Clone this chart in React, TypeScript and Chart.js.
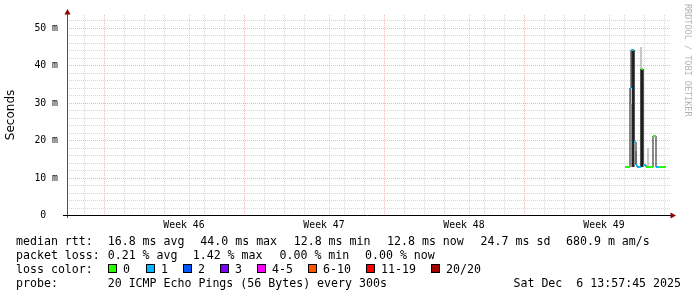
import React, { useEffect, useRef } from 'react';
import { Chart, registerables } from 'chart.js';

Chart.register(...registerables);

// ---- time axis (days from left edge of the graph) ----
const X_MAX_DAYS = 30.15;
const FIRST_DAY_LINE = 0.35;
const FIRST_WEEK_LINE = 2.35;
const WEEK_LABEL_POS = [5.85, 12.85, 19.85, 26.85];
const WEEK_LABELS = ['Week 46', 'Week 47', 'Week 48', 'Week 49'];

// ---- value axis (milliseconds) ----
const Y_MAX_MS = 53.5;
const Y_MINOR_STEP = 2;
const Y_MAJOR_STEP = 10;

// ---- median rtt, step-wise (start time in days, value in ms, loss level index) ----
const STEP_START = [27.9, 28.15, 28.2, 28.35, 28.45, 28.5, 28.68, 28.78, 28.95, 29.3, 29.45, 29.6];
const STEP_END = 29.95;
const MEDIAN_MS = [12.8, 34.0, 44.0, 19.5, 13.5, 12.8, 39.0, 13.5, 12.8, 21.0, 12.8, 12.8];
const LOSS_LEVEL = [0, 1, 1, 1, 1, 1, 0, 1, 0, 0, 1, 0];

// ---- smoke (ping spread) ----
const DARK_SMOKE_X = [28.275, 28.73];
const DARK_SMOKE_LO = [12.8, 12.8];
const DARK_SMOKE_HI = [44.0, 39.0];
const LIGHT_SMOKE_X = [28.2, 28.43, 28.7, 29.05];
const LIGHT_SMOKE_LO = [29.6, 13.3, 39.0, 12.8];
const LIGHT_SMOKE_HI = [34.0, 17.2, 45.0, 18.0];

// ---- legend ----
const LOSS_LABELS = ['0', '1', '2', '3', '4-5', '6-10', '11-19', '20/20'];
const LOSS_COLORS = ['#26ff00', '#00b8ff', '#0059ff', '#7e00ff', '#ff00ff', '#ff5500', '#ff0000', '#a10000'];
const RTT_STATS = ['16.8 ms avg', '44.0 ms max', '12.8 ms min', '12.8 ms now', '24.7 ms sd', '680.9 m am/s'];
const LOSS_STATS = ['0.21 % avg', '1.42 % max', '0.00 % min', '0.00 % now'];
const PROBE_TEXT = '20 ICMP Echo Pings (56 Bytes) every 300s';
const DATE_TEXT = 'Sat Dec  6 13:57:45 2025';

// layout of legend (pixels)
const RTT_X = [107.7, 200.3, 293.7, 387, 480.6, 566];
const LOSS_X = [107.7, 192.7, 279.5, 365];
const BOX_X = [108, 146, 183, 220, 257, 308, 366, 431];

const MONO = "'DejaVu Sans Mono', monospace";
const FS = 11.6;
const TICK_FS = 9.8;

const near = (a: number, b: number) => Math.abs(a - b) < 1e-6;
const isWeekLine = (v: number) => {
  const k = (v - FIRST_WEEK_LINE) / 7;
  return Math.abs(k - Math.round(k)) < 1e-6;
};

export default function App() {
  const ref = useRef<HTMLCanvasElement>(null);

  useEffect(() => {
    const canvas = ref.current!;
    document.body.style.margin = '0';

    const medianPts = STEP_START.map((x, i) => ({ x, y: MEDIAN_MS[i] }));
    medianPts.push({ x: STEP_END, y: MEDIAN_MS[MEDIAN_MS.length - 1] });

    const lossPts: { x: number; y: number }[] = [];
    STEP_START.forEach((x, i) => {
      const end = i + 1 < STEP_START.length ? STEP_START[i + 1] : STEP_END;
      lossPts.push({ x, y: MEDIAN_MS[i] });
      lossPts.push({ x: end, y: MEDIAN_MS[i] });
    });

    const darkSmoke = DARK_SMOKE_X.map((x, i) => ({ x, y: [DARK_SMOKE_LO[i], DARK_SMOKE_HI[i]] }));
    const lightSmoke = LIGHT_SMOKE_X.map((x, i) => ({ x, y: [LIGHT_SMOKE_LO[i], LIGHT_SMOKE_HI[i]] }));

    const xTicks: number[] = [];
    for (let v = FIRST_DAY_LINE; v < X_MAX_DAYS; v += 1) xTicks.push(Math.round(v * 100) / 100);
    WEEK_LABEL_POS.forEach((v) => xTicks.push(v));
    xTicks.sort((a, b) => a - b);

    const yTicks: number[] = [];
    for (let v = 0; v <= Y_MAX_MS; v += Y_MINOR_STEP) yTicks.push(v);

    const minorGrid = 'rgba(150,150,150,0.38)';
    const majorGrid = 'rgba(230,70,70,0.42)';

    const axesPlugin = {
      id: 'rrdAxes',
      afterDatasetsDraw(chart: any) {
        const { ctx, chartArea } = chart;
        const { left, right, top, bottom } = chartArea;
        ctx.save();
        ctx.lineWidth = 1;
        ctx.strokeStyle = '#505050';
        ctx.beginPath();
        ctx.moveTo(left + 0.5, bottom + 3);
        ctx.lineTo(left + 0.5, top - 2);
        ctx.stroke();
        ctx.strokeStyle = '#000';
        ctx.beginPath();
        ctx.moveTo(left - 4, bottom + 0.5);
        ctx.lineTo(right + 2, bottom + 0.5);
        ctx.stroke();
        ctx.fillStyle = '#8b0000';
        ctx.beginPath();
        ctx.moveTo(left + 0.5, top - 6);
        ctx.lineTo(left - 2.5, top - 0.5);
        ctx.lineTo(left + 3.5, top - 0.5);
        ctx.closePath();
        ctx.fill();
        ctx.beginPath();
        ctx.moveTo(right + 6, bottom + 0.5);
        ctx.lineTo(right + 0.5, bottom - 2.5);
        ctx.lineTo(right + 0.5, bottom + 3.5);
        ctx.closePath();
        ctx.fill();
        ctx.restore();
      },
    };

    const chart = new Chart(canvas, {
      type: 'line',
      data: {
        datasets: [
          {
            type: 'line',
            label: 'loss color',
            data: lossPts,
            borderColor: LOSS_COLORS[0],
            borderWidth: 2,
            borderCapStyle: 'butt',
            pointRadius: 0,
            order: 0,
            segment: {
              borderColor: (c: any) =>
                c.p0DataIndex % 2 === 0 ? LOSS_COLORS[LOSS_LEVEL[c.p0DataIndex / 2]] : 'rgba(0,0,0,0)',
            },
          },
          {
            type: 'line',
            label: 'median rtt',
            data: medianPts,
            stepped: 'before',
            borderColor: '#151515',
            borderWidth: 1,
            pointRadius: 0,
            order: 1,
          },
          {
            type: 'bar',
            label: 'smoke light',
            data: lightSmoke as any,
            backgroundColor: '#c6c6c6',
            barThickness: 2,
            grouped: false,
            inflateAmount: 0,
            order: 2,
          },
          {
            type: 'bar',
            label: 'smoke dark',
            data: darkSmoke as any,
            backgroundColor: '#262626',
            barThickness: 3,
            grouped: false,
            inflateAmount: 0,
            order: 3,
          },
        ] as any,
      },
      options: {
        responsive: false,
        animation: false,
        events: [],
        layout: { padding: { left: 0, top: 13, right: 27, bottom: 62 } },
        plugins: { legend: { display: false }, tooltip: { enabled: false }, title: { display: false } },
        scales: {
          x: {
            type: 'linear',
            min: 0,
            max: X_MAX_DAYS,
            offset: false,
            alignToPixels: true,
            afterBuildTicks: (s: any) => {
              s.ticks = xTicks.map((value) => ({ value }));
            },
            afterFit: (s: any) => {
              s.height = 20;
            },
            ticks: {
              autoSkip: false,
              maxRotation: 0,
              minRotation: 0,
              padding: 5,
              color: '#000',
              font: { family: MONO, size: TICK_FS },
              callback: (v: any) => {
                const i = WEEK_LABEL_POS.findIndex((p) => near(p, Number(v)));
                return i >= 0 ? WEEK_LABELS[i] : '';
              },
            },
            grid: {
              drawTicks: false,
              lineWidth: 1,
              color: (c: any) => {
                const v = c.tick ? c.tick.value : 0;
                if (WEEK_LABEL_POS.some((p) => near(p, v))) return 'rgba(0,0,0,0)';
                return isWeekLine(v) ? majorGrid : minorGrid;
              },
            },
            border: { display: false, dash: [1, 1] },
          },
          y: {
            type: 'linear',
            min: 0,
            max: Y_MAX_MS,
            alignToPixels: true,
            afterBuildTicks: (s: any) => {
              s.ticks = yTicks.map((value) => ({ value }));
            },
            afterFit: (s: any) => {
              s.width = 67;
            },
            ticks: {
              autoSkip: false,
              padding: 9,
              color: '#000',
              font: { family: MONO, size: TICK_FS },
              callback: (v: any) => {
                const n = Number(v);
                if (n % Y_MAJOR_STEP !== 0) return '';
                return n === 0 ? '0  ' : `${n} m`;
              },
            },
            grid: {
              drawTicks: false,
              lineWidth: 1,
              color: (c: any) => {
                const v = c.tick ? c.tick.value : 0;
                return v % Y_MAJOR_STEP === 0 ? majorGrid : minorGrid;
              },
            },
            border: { display: false, dash: [1, 1] },
            title: {
              display: true,
              text: 'Seconds',
              color: '#000',
              font: { family: "'DejaVu Sans', sans-serif", size: 12 },
              padding: { top: 4, bottom: 0 },
            },
          },
        },
      } as any,
      plugins: [axesPlugin],
    });

    return () => chart.destroy();
  }, []);

  const txt = (left: number, center: number, s: string, extra: any = {}) => (
    <div
      key={`${left}-${center}-${s}`}
      style={{
        position: 'absolute',
        left,
        top: center - 7.5,
        height: 14,
        lineHeight: '14px',
        fontFamily: MONO,
        fontSize: FS,
        color: '#000',
        whiteSpace: 'pre',
        ...extra,
      }}
    >
      {s}
    </div>
  );

  return (
    <div
      style={{
        position: 'absolute',
        left: 0,
        top: 0,
        width: 697,
        height: 297,
        background: '#fff',
        overflow: 'hidden',
      }}
    >
      <canvas ref={ref} width={697} height={297} style={{ position: 'absolute', left: 0, top: 0 }} />
      <div
        style={{
          position: 'absolute',
          left: 683,
          top: 4,
          writingMode: 'vertical-rl',
          fontFamily: MONO,
          fontSize: 8.5,
          lineHeight: '9px',
          color: '#b4b4b4',
          whiteSpace: 'pre',
        }}
      >
        RRDTOOL / TOBI OETIKER
      </div>
      {txt(16, 241, 'median rtt:')}
      {RTT_STATS.map((s, i) => txt(RTT_X[i], 241, s))}
      {txt(16, 255, 'packet loss:')}
      {LOSS_STATS.map((s, i) => txt(LOSS_X[i], 255, s))}
      {txt(16, 269, 'loss color:')}
      {LOSS_LABELS.map((s, i) => (
        <React.Fragment key={`box-${i}`}>
          <div
            style={{
              position: 'absolute',
              left: BOX_X[i],
              top: 264,
              width: 7,
              height: 7,
              background: LOSS_COLORS[i],
              border: '1px solid #000',
            }}
          />
          {txt(BOX_X[i] + 15, 269, s)}
        </React.Fragment>
      ))}
      {txt(16, 283, 'probe:')}
      {txt(107.7, 283, PROBE_TEXT)}
      <div
        style={{
          position: 'absolute',
          right: 16,
          top: 283 - 7.5,
          lineHeight: '14px',
          fontFamily: MONO,
          fontSize: FS,
          color: '#000',
          whiteSpace: 'pre',
        }}
      >
        {DATE_TEXT}
      </div>
    </div>
  );
}
